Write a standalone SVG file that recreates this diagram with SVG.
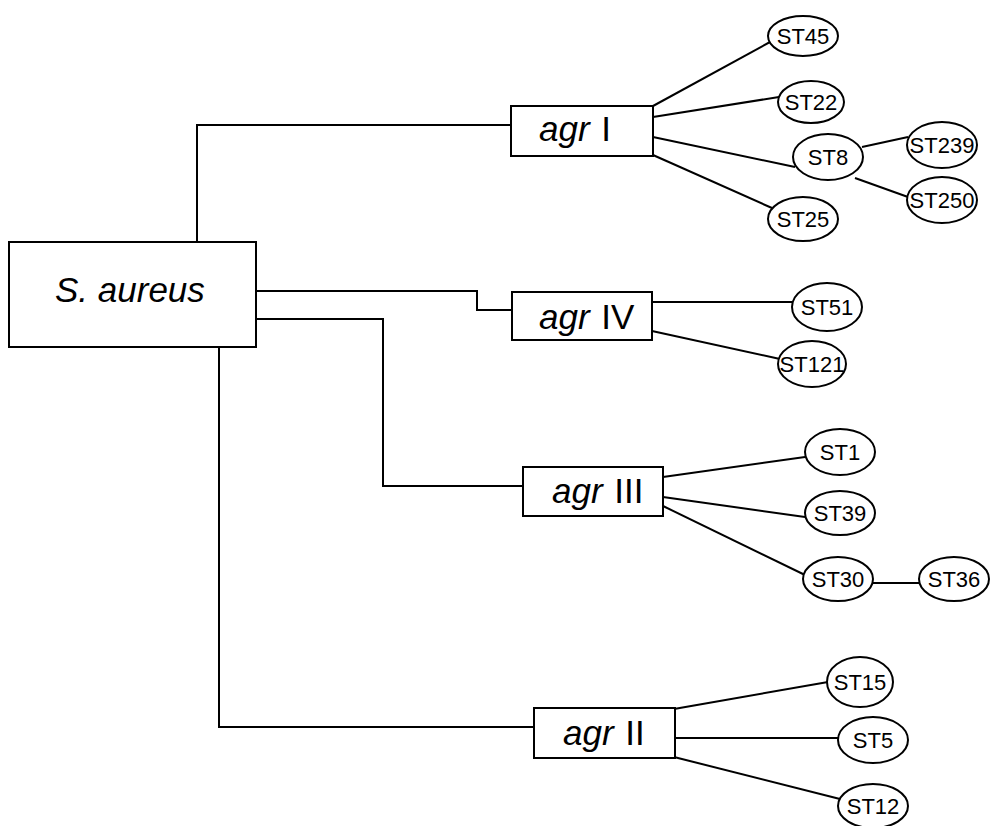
<svg xmlns="http://www.w3.org/2000/svg" width="991" height="826" viewBox="0 0 991 826">
<style>
  .box { fill: #fff; stroke: #000; stroke-width: 2; }
  .st { fill: #fff; stroke: #000; stroke-width: 2; }
  .lbl { font-family: "Liberation Sans", Arial, sans-serif; font-size: 22px; fill: #000; text-anchor: middle; }
  .agr { font-family: "Liberation Sans", Arial, sans-serif; font-size: 35px; fill: #000; }
  .it { font-style: italic; }
  .conn line, .conn polyline { stroke: #000; stroke-width: 2; fill: none; }
</style>
<rect width="991" height="826" fill="#fff"/>
<g id="connectors" class="conn">
  <polyline points="197,242 197,125 511,125"/>
  <polyline points="256,291 477,291 477,310 512,310"/>
  <polyline points="256,319 383,319 383,486 523,486"/>
  <polyline points="219,347 219,727 534,727"/>
  <line x1="653" y1="106" x2="770" y2="42"/>
  <line x1="653" y1="117" x2="779" y2="97"/>
  <line x1="653" y1="137" x2="795" y2="167"/>
  <line x1="653" y1="155" x2="772" y2="208"/>
  <line x1="862" y1="147" x2="908" y2="137"/>
  <line x1="855" y1="178" x2="908" y2="197"/>
  <line x1="652" y1="302" x2="792" y2="302"/>
  <line x1="652" y1="331" x2="780" y2="359"/>
  <line x1="663" y1="477" x2="805" y2="457"/>
  <line x1="663" y1="497" x2="805" y2="517"/>
  <line x1="663" y1="506" x2="805" y2="575"/>
  <line x1="873" y1="583" x2="919" y2="583"/>
  <line x1="674" y1="709" x2="828" y2="682"/>
  <line x1="674" y1="738" x2="838" y2="738"/>
  <line x1="674" y1="757" x2="840" y2="799"/>
</g>
<g id="saureus">
  <rect class="box" x="9" y="242" width="247" height="105"/>
  <text class="agr it" x="55" y="302" font-size="38">S. aureus</text>
</g>
<g id="agrI">
  <rect class="box" x="511" y="106" width="142" height="50"/>
  <text class="agr" x="539" y="141"><tspan class="it">agr</tspan><tspan dx="2"> I</tspan></text>
</g>
<g id="agrIV">
  <rect class="box" x="512" y="292" width="140" height="48"/>
  <text class="agr" x="539" y="329"><tspan class="it">agr</tspan><tspan dx="2"> IV</tspan></text>
</g>
<g id="agrIII">
  <rect class="box" x="523" y="467" width="140" height="49"/>
  <text class="agr" x="552" y="503"><tspan class="it">agr</tspan><tspan dx="2"> III</tspan></text>
</g>
<g id="agrII">
  <rect class="box" x="534" y="708" width="141" height="50"/>
  <text class="agr" x="563" y="745"><tspan class="it">agr</tspan><tspan dx="2"> II</tspan></text>
</g>
<g id="ST45"><ellipse class="st" cx="803" cy="36" rx="35" ry="20"/><text class="lbl" x="803" y="44">ST45</text></g>
<g id="ST22"><ellipse class="st" cx="811" cy="102" rx="33" ry="21"/><text class="lbl" x="811" y="110">ST22</text></g>
<g id="ST8"><ellipse class="st" cx="828" cy="157" rx="35" ry="23"/><text class="lbl" x="828" y="165">ST8</text></g>
<g id="ST239"><ellipse class="st" cx="942" cy="145" rx="35" ry="23"/><text class="lbl" x="942" y="153">ST239</text></g>
<g id="ST250"><ellipse class="st" cx="942" cy="200" rx="35" ry="23"/><text class="lbl" x="942" y="208">ST250</text></g>
<g id="ST25"><ellipse class="st" cx="803" cy="219" rx="35" ry="22"/><text class="lbl" x="803" y="227">ST25</text></g>
<g id="ST51"><ellipse class="st" cx="827" cy="307" rx="35" ry="24"/><text class="lbl" x="827" y="315">ST51</text></g>
<g id="ST121"><ellipse class="st" cx="812" cy="364" rx="34" ry="23"/><text class="lbl" x="812" y="372">ST121</text></g>
<g id="ST1"><ellipse class="st" cx="840" cy="452" rx="35" ry="23"/><text class="lbl" x="840" y="460">ST1</text></g>
<g id="ST39"><ellipse class="st" cx="840" cy="513" rx="35" ry="22"/><text class="lbl" x="840" y="521">ST39</text></g>
<g id="ST30"><ellipse class="st" cx="838" cy="579" rx="35" ry="22"/><text class="lbl" x="838" y="587">ST30</text></g>
<g id="ST36"><ellipse class="st" cx="954" cy="579" rx="35" ry="22"/><text class="lbl" x="954" y="587">ST36</text></g>
<g id="ST15"><ellipse class="st" cx="860" cy="682" rx="33" ry="25"/><text class="lbl" x="860" y="690">ST15</text></g>
<g id="ST5"><ellipse class="st" cx="873" cy="740" rx="35" ry="23"/><text class="lbl" x="873" y="748">ST5</text></g>
<g id="ST12"><ellipse class="st" cx="873" cy="806" rx="35" ry="22"/><text class="lbl" x="873" y="814">ST12</text></g>
</svg>
